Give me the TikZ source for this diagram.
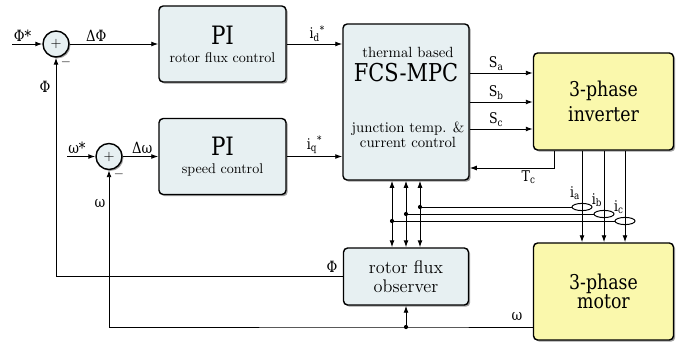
\documentclass[tikz,border=0pt]{standalone}
\usepackage{fontspec}
\newfontfamily\blockfont[FakeStretch=0.85]{DejaVu Serif}
\usetikzlibrary{positioning,calc,shapes.geometric,shadows,arrows.meta}
\definecolor{boxblue}{RGB}{231,240,242}
\definecolor{boxyellow}{RGB}{250,248,172}
\tikzset{
  block/.style={draw, line width=1pt, rounded corners=3pt, fill=boxblue, align=center,
    drop shadow={shadow xshift=1.2pt, shadow yshift=-1.2pt, fill=black!75}},
  hwblock/.style={block, fill=boxyellow},
  sumnode/.style={draw, circle, line width=1pt, fill=boxblue, minimum size=0.65cm, inner sep=0pt,
    drop shadow={shadow xshift=1pt, shadow yshift=-1pt, fill=black!75}},
  sensor/.style={draw, ellipse, minimum width=0.5cm, minimum height=0.18cm, inner sep=0pt},
  lbl/.style={font=\blockfont\fontsize{11}{13}\selectfont, inner sep=1.5pt},
  slbl/.style={font=\blockfont\fontsize{10.5}{12}\selectfont, inner sep=1.5pt},
  dot/.style={circle, fill, inner sep=0pt, minimum size=3pt},
  smalltxt/.style={font=\fontsize{10.5}{11}\selectfont, align=center, inner sep=0pt}
}
\begin{document}
\begin{tikzpicture}[x=0.025cm, y=-0.025cm, >={Latex[length=5pt,width=3.5pt]}, line width=0.7pt]
\useasboundingbox (0,0) rectangle (688,347);

\node[sumnode] (sum1) at (56,44) {$+$};
\node[sumnode] (sum2) at (109,156.5) {$+$};
\node[block, minimum width=3.175cm, minimum height=1.9cm] (pi1) at (222.5,44)
  {{\blockfont\fontsize{18}{18}\selectfont PI}\\[1pt] rotor flux control};
\node[block, minimum width=3.175cm, minimum height=1.9cm] (pi2) at (222.5,156.5)
  {{\blockfont\fontsize{18}{18}\selectfont PI}\\[1pt] speed control};
\node[block, minimum width=3.15cm, minimum height=3.9cm] (mpc) at (406,102) {};
\node[smalltxt] (mpct1) at ($(mpc.center)+(2,-50)$) {thermal based};
\node[font=\blockfont\fontsize{17.5}{18}\selectfont, inner sep=0pt] (mpct2) at ($(mpc.center)+(0,-29)$) {FCS-MPC};
\node[smalltxt] (mpct3) at ($(mpc.center)+(2,33)$) {junction temp. \&\\ current control};
\node[block, minimum width=3.125cm, minimum height=1.425cm, font=\fontsize{13}{14}\selectfont] (obs) at (406,276.5)
  {rotor flux\\ observer};
\node[hwblock, minimum width=3.5cm, minimum height=2.425cm, font=\blockfont\fontsize{14.5}{17.5}\selectfont] (inv) at (603.5,101.5)
  {3-phase\\ inverter};
\node[hwblock, minimum width=3.5cm, minimum height=2.425cm, font=\blockfont\fontsize{14.5}{14}\selectfont] (mot) at (603.5,291.5)
  {3-phase\\ motor};

\node[sensor] (sa) at (582,207) {};
\node[sensor] (sb) at (604,214) {};
\node[sensor] (sc) at (625,221) {};

\coordinate (phiin) at (12,44);
\coordinate (win) at (67,156.5);
\coordinate (tc) at (554,168);
\coordinate (wtap) at (406,327);
\foreach \n/\dx in {1/-14,2/0,3/14}
  \coordinate (v\n) at ($(mpc.south)+(\dx,0)$);

\draw[->] (phiin) -- node[lbl,above,pos=0.35] {Φ*} (sum1);
\draw[->] (sum1) -- node[lbl,above,pos=0.3] {ΔΦ} (pi1);
\draw[->] (pi1) -- node[slbl,above,pos=0.55] {i\textsubscript{d}\textsuperscript{*}} (pi1.east -| mpc.west);
\draw[->] (win) -- node[lbl,above,pos=0.35] {ω*} (sum2);
\draw[->] (sum2) -- node[lbl,above,pos=0.55] {Δω} (pi2);
\draw[->] (pi2) -- node[slbl,above,pos=0.5] {i\textsubscript{q}\textsuperscript{*}} (pi2.east -| mpc.west);

\foreach \y/\s in {73/a,102/b,129/c}
  \draw[->] (mpc.east |- 0,\y) -- node[slbl,above,pos=0.42] {S\textsubscript{\s}} (inv.west |- 0,\y);
\draw[->] (inv.south -| tc) |- node[slbl,below,pos=0.65] {T\textsubscript{c}} (mpc.east |- tc);

\foreach \s in {sa,sb,sc}
  \draw[->] (inv.south -| \s) -- (mot.north -| \s);
\node[slbl] (ia) at (575,193) {i\textsubscript{a}};
\node[slbl] (ib) at (597,200) {i\textsubscript{b}};
\node[slbl] (ic) at (619,207) {i\textsubscript{c}};

\draw (sa.west) -- (sa.west -| v3) node[dot] (da) {};
\draw (sb.west) -- (sb.west -| v2) node[dot] (db) {};
\draw (sc.west) -- (sc.west -| v1) node[dot] (dc) {};
\foreach \n in {1,2,3}
  \draw[<->] (v\n) -- (v\n |- obs.north);

\draw[->] (obs.west) -| (sum1.south);
\draw[->] (mot.west |- wtap) -- (wtap) -| (sum2.south);
\draw[->] (wtap) node[dot] (dw) {} -- (obs.south);

\node[lbl] (phifb) at (45,87) {Φ};
\node[lbl] (phiobs) at (332,267) {Φ};
\node[lbl] (wfb) at (100,204) {ω};
\node[lbl] (wmot) at (517,317) {ω};
\node[font=\small] (m1) at (66,62) {$-$};
\node[font=\small] (m2) at (119,174.5) {$-$};
\end{tikzpicture}
\end{document}
